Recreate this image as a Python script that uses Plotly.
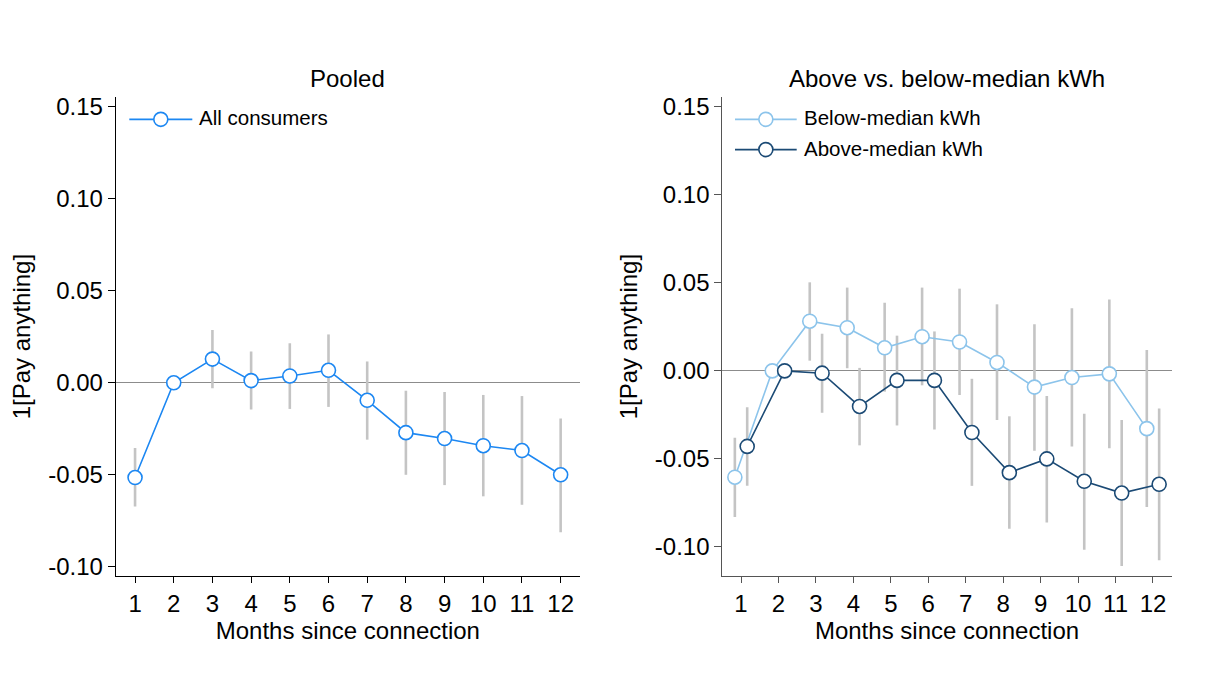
import plotly.graph_objects as go

W, H = 1220, 696

# Months since connection
months = list(range(1, 13))

# Pooled estimates with 95% confidence bounds (month 2 is the omitted reference)
pooled = [-0.0515, 0.0, 0.0129, 0.0012, 0.0037, 0.0068, -0.0095, -0.0271, -0.0303, -0.0342, -0.0368, -0.0500]
pooled_lo = [-0.0672, None, -0.0029, -0.0145, -0.0142, -0.0131, -0.0309, -0.0500, -0.0556, -0.0617, -0.0663, -0.0812]
pooled_hi = [-0.0355, None, 0.0287, 0.0170, 0.0215, 0.0263, 0.0116, -0.0043, -0.0050, -0.0066, -0.0072, -0.0194]

# Below-median kWh consumers
below = [-0.0604, 0.0, 0.0282, 0.0245, 0.0131, 0.0194, 0.0164, 0.0048, -0.0092, -0.0038, -0.0017, -0.0328]
below_lo = [-0.0830, None, 0.0058, 0.0015, -0.0118, -0.0082, -0.0137, -0.0279, -0.0453, -0.0429, -0.0440, -0.0773]
below_hi = [-0.0380, None, 0.0503, 0.0473, 0.0387, 0.0473, 0.0467, 0.0378, 0.0265, 0.0355, 0.0406, 0.0118]

# Above-median kWh consumers
above = [-0.0429, 0.0, -0.0013, -0.0202, -0.0054, -0.0054, -0.0350, -0.0578, -0.0500, -0.0627, -0.0694, -0.0644]
above_lo = [-0.0653, None, -0.0238, -0.0423, -0.0310, -0.0333, -0.0653, -0.0896, -0.0861, -0.1016, -0.1108, -0.1076]
above_hi = [-0.0206, None, 0.0211, 0.0017, 0.0200, 0.0224, -0.0045, -0.0258, -0.0142, -0.0243, -0.0279, -0.0213]

y_ticks = [-0.10, -0.05, 0.00, 0.05, 0.10, 0.15]
y_tick_labels = ["-0.10", "-0.05", "0.00", "0.05", "0.10", "0.15"]

BLUE = "#1c87f2"
LIGHT = "#8cc4eb"
DARK = "#1b4a75"
CI_GREY = "#c4c4c4"
FONT = "Liberation Sans, Arial, Helvetica, sans-serif"
SHIFT = 0.165  # horizontal dodge between the two groups
FS = 24        # tick, axis-title and panel-title size
FS_LEG = 20.5  # legend label size

def ci_segments(xs, lo, hi, shift=0.0):
    sx, sy = [], []
    for x, a, b in zip(xs, lo, hi):
        if a is None or b is None:
            continue
        sx += [x + shift, x + shift, None]
        sy += [a, b, None]
    return sx, sy


fig = go.Figure()


def add_ci(xs, lo, hi, shift, xa, ya):
    sx, sy = ci_segments(xs, lo, hi, shift)
    fig.add_trace(go.Scatter(x=sx, y=sy, mode="lines", xaxis=xa, yaxis=ya,
                             line=dict(color=CI_GREY, width=2.6),
                             hoverinfo="skip", showlegend=False))


def add_series(xs, ys, shift, color, name, xa, ya):
    fig.add_trace(go.Scatter(x=[x + shift for x in xs], y=ys, mode="lines+markers",
                             name=name, xaxis=xa, yaxis=ya, showlegend=False,
                             line=dict(color=color, width=1.6),
                             marker=dict(symbol="circle", size=14, color="white",
                                         line=dict(color=color, width=1.6))))


# Confidence intervals first so they sit under the series
add_ci(months, pooled_lo, pooled_hi, 0.0, "x", "y")
add_ci(months, below_lo, below_hi, -SHIFT, "x2", "y2")
add_ci(months, above_lo, above_hi, SHIFT, "x2", "y2")

add_series(months, pooled, 0.0, BLUE, "All consumers", "x", "y")
add_series(months, below, -SHIFT, LIGHT, "Below-median kWh", "x2", "y2")
add_series(months, above, SHIFT, DARK, "Above-median kWh", "x2", "y2")

# Panel geometry in pixels
L1, R1 = 115.7, 580.0
L2, R2 = 722.3, 1171.7
TOP, BOT = 94.0, 579.0


def fx(px):
    return px / W


def fy(py):
    return 1 - py / H


axis_common = dict(showgrid=False, showline=True, linewidth=1, ticks="outside",
                   tickfont=dict(size=FS, color="black", family=FONT))

fig.update_layout(
    width=W, height=H, autosize=False,
    margin=dict(l=0, r=0, t=0, b=0),
    paper_bgcolor="white", plot_bgcolor="white",
    font=dict(family=FONT, color="black"),
    showlegend=False,
    xaxis=dict(domain=[fx(L1), fx(R1)], range=[0.5, 12.5], tickvals=months,
               linecolor="black", tickcolor="black", ticklen=6, zeroline=False,
               title=dict(text="Months since connection", font=dict(size=FS), standoff=6),
               anchor="y", **axis_common),
    yaxis=dict(domain=[fy(BOT), fy(TOP)], range=[-0.1052, 0.1554], tickvals=y_ticks,
               ticktext=y_tick_labels, linecolor="black", tickcolor="black", ticklen=7,
               zeroline=True, zerolinecolor="#8c8c8c", zerolinewidth=1,
               title=dict(text="1[Pay anything]", font=dict(size=FS), standoff=10),
               anchor="x", **axis_common),
    xaxis2=dict(domain=[fx(L2), fx(R2)], range=[0.5, 12.5], tickvals=months,
                linecolor="#555555", tickcolor="#555555", ticklen=6, zeroline=False,
                title=dict(text="Months since connection", font=dict(size=FS), standoff=6),
                anchor="y2", **axis_common),
    yaxis2=dict(domain=[fy(BOT), fy(TOP)], range=[-0.1167, 0.1556], tickvals=y_ticks,
                ticktext=y_tick_labels, linecolor="#555555", tickcolor="#555555", ticklen=7,
                zeroline=True, zerolinecolor="#8c8c8c", zerolinewidth=1,
                title=dict(text="1[Pay anything]", font=dict(size=FS), standoff=10),
                anchor="x2", **axis_common),
)

# Panel titles
for text, cx in [("Pooled", (L1 + R1) / 2), ("Above vs. below-median kWh", (L2 + R2) / 2)]:
    fig.add_annotation(text=text, x=fx(cx), y=fy(75), xref="paper", yref="paper",
                       xanchor="center", yanchor="middle", showarrow=False,
                       font=dict(size=FS, family=FONT, color="black"))

# Legend keys drawn inside each panel
legend_items = [
    ("All consumers", BLUE, 129.3, 192.3, 116.7),
    ("Below-median kWh", LIGHT, 735.0, 796.7, 116.7),
    ("Above-median kWh", DARK, 735.0, 796.7, 147.3),
]
for label, color, x0, x1, yy in legend_items:
    fig.add_shape(type="line", xref="paper", yref="paper",
                  x0=fx(x0), x1=fx(x1), y0=fy(yy), y1=fy(yy),
                  line=dict(color=color, width=1.6), layer="above")
    xc = (x0 + x1) / 2
    fig.add_shape(type="circle", xref="paper", yref="paper",
                  xsizemode="pixel", ysizemode="pixel",
                  xanchor=fx(xc), yanchor=fy(yy), x0=-7, x1=7, y0=-7, y1=7,
                  fillcolor="white", line=dict(color=color, width=1.6), layer="above")
    fig.add_annotation(text=label, x=fx(x1 + 5), y=fy(yy - 1.5), xref="paper", yref="paper",
                       xanchor="left", yanchor="middle", showarrow=False,
                       font=dict(size=FS_LEG, family=FONT, color="black"))

fig.write_html("out.html")
